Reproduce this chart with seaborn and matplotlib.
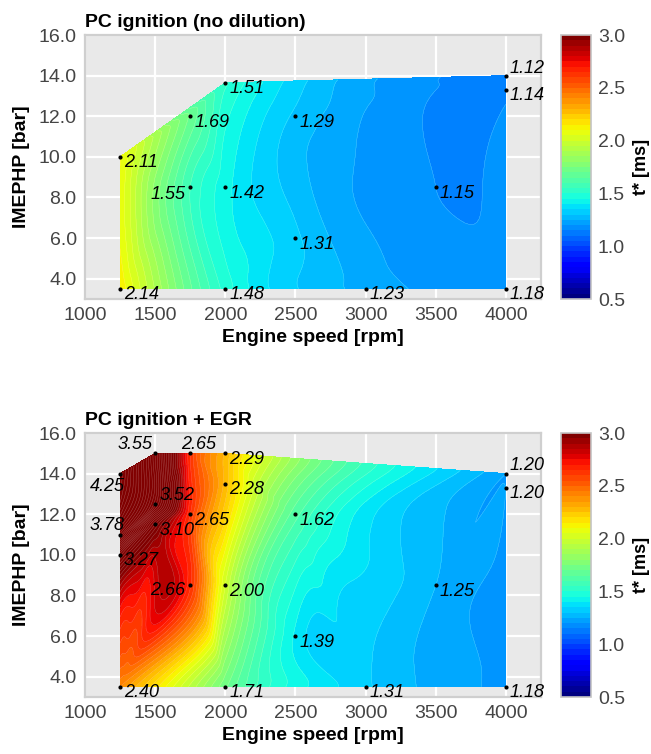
import numpy as np
import matplotlib
matplotlib.use("Agg")
import matplotlib.pyplot as plt
import matplotlib.tri as mtri
import matplotlib.colors as mcolors
import matplotlib.cm as mcm
import seaborn as sns

# Operating points: engine speed [rpm], load IMEPHP [bar], t* [ms]
top_rpm = [1250, 1250, 1750, 1750, 2000, 2000, 2000, 2500, 2500, 3000, 3500, 4000, 4000, 4000]
top_imep = [10.0, 3.5, 12.0, 8.5, 13.65, 8.5, 3.5, 12.0, 6.0, 3.5, 8.5, 14.0, 13.3, 3.5]
top_t = [2.11, 2.14, 1.69, 1.55, 1.51, 1.42, 1.48, 1.29, 1.31, 1.23, 1.15, 1.12, 1.14, 1.18]

egr_rpm = [1250, 1500, 1750, 2000, 2000, 1500, 1750, 1250, 1500, 1250, 1750,
           2000, 2500, 2500, 1250, 2000, 3000, 3500, 4000, 4000, 4000]
egr_imep = [14.0, 15.0, 15.0, 15.0, 13.5, 12.5, 12.0, 11.0, 11.5, 10.0, 8.5,
            8.5, 12.0, 6.0, 3.5, 3.5, 3.5, 8.5, 14.0, 13.3, 3.5]
egr_t = [4.25, 3.55, 2.65, 2.29, 2.28, 3.52, 2.65, 3.78, 3.10, 3.27, 2.66,
         2.00, 1.62, 1.39, 2.40, 1.71, 1.31, 1.25, 1.20, 1.20, 1.18]

titles = ["PC ignition (no dilution)", "PC ignition + EGR"]
x_ticks = [1000, 1500, 2000, 2500, 3000, 3500, 4000]
y_ticks = [4, 6, 8, 10, 12, 14, 16]
cbar_ticks = [0.5, 1.0, 1.5, 2.0, 2.5, 3.0]

# label placement (pixel offset, alignment) for points whose label is not right/below
top_place = {3: (-5, -7, "right"), 11: (4, 7, "left")}
egr_place = {0: (5, -13, "right"), 1: (-3, 9, "right"), 2: (-9, 9, "left"),
             5: (4, 9, "left"), 7: (5, 9, "right"), 10: (-5, -5, "right"),
             18: (4, 8, "left")}

sns.set_theme(style="darkgrid", rc={
    "axes.facecolor": "#E9E9E9",
    "axes.edgecolor": "#CFCFCF",
    "axes.linewidth": 1.6,
    "grid.color": "white",
    "grid.linewidth": 1.6,
    "xtick.color": "#444444",
    "ytick.color": "#444444",
    "xtick.labelcolor": "#444444",
    "ytick.labelcolor": "#444444",
})
plt.rcParams["font.family"] = ["Liberation Sans", "DejaVu Sans"]

fig = plt.figure(figsize=(6.51, 7.54), dpi=100)
W, H = 651, 754


def rect(x0, y0, x1, y1):
    return [x0 / W, 1 - y1 / H, (x1 - x0) / W, (y1 - y0) / H]


levels = np.arange(0.5, 4.56, 0.05)
cmap = plt.get_cmap("jet")
norm = mcolors.Normalize(vmin=0.5, vmax=3.0)


def draw_map(ax, cax, rpm, imep, t, title, place):
    rpm = np.asarray(rpm, float)
    imep = np.asarray(imep, float)
    t = np.asarray(t, float)
    # smooth cubic interpolation on the Delaunay triangulation of the points
    tri = mtri.Triangulation(rpm, imep)
    interp = mtri.CubicTriInterpolator(tri, t, kind="geom")
    refiner = mtri.UniformTriRefiner(tri)
    tri_r, t_r = refiner.refine_field(t, triinterpolator=interp, subdiv=5)
    ax.tricontourf(tri_r, t_r, levels=levels, cmap=cmap, norm=norm,
                   extend="both", zorder=2)
    ax.tricontour(tri_r, t_r, levels=levels, colors="white",
                  linewidths=0.3, alpha=0.35, zorder=3)
    sns.scatterplot(x=rpm, y=imep, ax=ax, color="black", s=9,
                    edgecolor=None, linewidth=0, zorder=5, legend=False)
    for i, (xv, yv, tv) in enumerate(zip(rpm, imep, t)):
        dx, dy, ha = place.get(i, (4, -6, "left"))
        ax.annotate(f"{tv:.2f}", (xv, yv), xytext=(dx, dy),
                    textcoords="offset pixels", ha=ha, va="center",
                    fontsize=13, fontstyle="italic", color="black", zorder=6)
    ax.set_xlim(1000, 4250)
    ax.set_ylim(3, 16)
    ax.set_xticks(x_ticks)
    ax.set_yticks(y_ticks)
    ax.set_yticklabels([f"{v:.1f}" for v in y_ticks])
    ax.tick_params(labelsize=14, length=0, pad=6)
    for s in ax.spines.values():
        s.set_visible(True)
        s.set_color("#CFCFCF")
        s.set_linewidth(1.6)
    ax.set_xlabel("Engine speed [rpm]", fontsize=14, fontweight="bold",
                  color="black", labelpad=3)
    ax.set_ylabel("IMEPHP [bar]", fontsize=14, fontweight="bold",
                  color="black", labelpad=6)
    ax.set_title(title, loc="left", fontsize=14, fontweight="bold",
                 color="black", pad=6)

    bounds = np.arange(0.5, 3.0001, 0.05)
    sm = mcm.ScalarMappable(norm=mcolors.BoundaryNorm(bounds, 256), cmap=cmap)
    cb = fig.colorbar(sm, cax=cax, ticks=cbar_ticks)
    cb.minorticks_off()
    cb.ax.set_yticklabels([f"{v:.1f}" for v in cbar_ticks])
    cb.ax.tick_params(labelsize=14, length=0, pad=5, colors="#444444")
    cb.outline.set_edgecolor("#C4C4C4")
    cb.outline.set_linewidth(1.2)
    cb.set_label("t* [ms]", fontsize=13, fontweight="bold", color="black",
                 labelpad=6)


ax1 = fig.add_axes(rect(85, 35, 541, 299))
cax1 = fig.add_axes(rect(561, 35, 591, 299))
ax2 = fig.add_axes(rect(85, 433, 541, 697))
cax2 = fig.add_axes(rect(561, 433, 591, 697))

draw_map(ax1, cax1, top_rpm, top_imep, top_t, titles[0], top_place)
draw_map(ax2, cax2, egr_rpm, egr_imep, egr_t, titles[1], egr_place)

fig.savefig("out.png", dpi=100)
